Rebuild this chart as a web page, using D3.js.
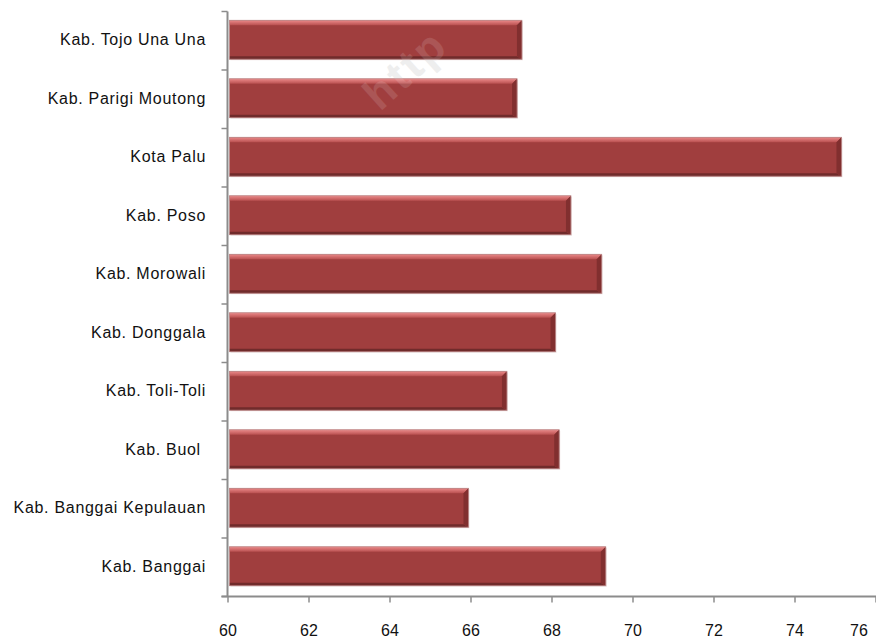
<!DOCTYPE html>
<html>
<head>
<meta charset="utf-8">
<script src="https://cdn.jsdelivr.net/npm/d3@7/dist/d3.min.js"></script>
<style>
  html, body { margin: 0; padding: 0; background: #ffffff; }
  svg { display: block; font-family: "Liberation Sans", Arial, sans-serif; }
  .cat text { white-space: pre; }
</style>
</head>
<body>
<svg id="chart" width="876" height="643"></svg>
<script>
// Regencies / city, top to bottom
const categories = [
  "Kab. Tojo Una Una",
  "Kab. Parigi Moutong",
  "Kota Palu",
  "Kab. Poso",
  "Kab. Morowali",
  "Kab. Donggala",
  "Kab. Toli-Toli",
  "Kab. Buol ",
  "Kab. Banggai Kepulauan",
  "Kab. Banggai"
];
const values = [67.27, 67.15, 75.16, 68.48, 69.24, 68.10, 66.90, 68.19, 65.95, 69.34];
const xDomain = [60, 76];
const xTicks = [60, 62, 64, 66, 68, 70, 72, 74, 76];

const svg = d3.select("#chart");
const W = 876, H = 643;
const plotLeft = 227.5, plotRight = 875.5, plotTop = 11.5, plotBottom = 596.5;

const x = d3.scaleLinear().domain(xDomain).range([plotLeft, plotRight]);
const y = d3.scaleBand().domain(categories).range([plotTop, plotBottom])
  .paddingInner(0.335).paddingOuter(0.1675);

const defs = svg.append("defs");
const tg = defs.append("linearGradient").attr("id", "topGrad")
  .attr("x1", 0).attr("y1", 0).attr("x2", 0).attr("y2", 1);
tg.append("stop").attr("offset", "0%").attr("stop-color", "#ec8a8a");
tg.append("stop").attr("offset", "100%").attr("stop-color", "#b84f4f");

const wmTransform = "translate(380,112) rotate(-42)";

// faint watermark behind the plot
svg.append("g").attr("transform", wmTransform)
  .append("text")
  .attr("font-size", 44).attr("font-weight", "bold")
  .attr("letter-spacing", 3)
  .attr("fill", "#ececec")
  .text("http");

// bars with bevelled edges
const bars = svg.append("g").selectAll("g.bar")
  .data(categories.map((c, i) => ({ c, v: values[i] })))
  .join("g").attr("class", "bar");

const b = 5;   // bevel width
bars.each(function(d) {
  const g = d3.select(this);
  const x0 = x(xDomain[0]) + 2, x1 = x(d.v);
  const y0 = y(d.c) - 1, y1 = y0 + y.bandwidth();
  // soft shadow
  g.append("rect").attr("x", x0 + 1).attr("y", y0 + 1).attr("width", x1 - x0)
    .attr("height", y1 - y0).attr("fill", "#dcc6c6").attr("opacity", 0.6);
  // body
  g.append("rect").attr("x", x0).attr("y", y0).attr("width", x1 - x0)
    .attr("height", y1 - y0).attr("fill", "#a03e3e");
  // top bevel (light)
  g.append("polygon")
    .attr("points", [[x0, y0], [x1, y0], [x1 - b, y0 + b], [x0, y0 + b]].join(" "))
    .attr("fill", "url(#topGrad)");
  // bottom bevel (dark)
  g.append("polygon")
    .attr("points", [[x0, y1], [x1, y1], [x1 - b, y1 - 3], [x0, y1 - 3]].join(" "))
    .attr("fill", "#702b2b");
  // right bevel
  g.append("polygon")
    .attr("points", [[x1, y0], [x1, y1], [x1 - b, y1 - 3], [x1 - b, y0 + b]].join(" "))
    .attr("fill", "#812f2f");
  // thin outline
  g.append("rect").attr("x", x0).attr("y", y0).attr("width", x1 - x0)
    .attr("height", y1 - y0).attr("fill", "none")
    .attr("stroke", "#bb8a8a").attr("stroke-width", 0.8);
});

// watermark overlay: faint on bars as well
svg.append("g").attr("transform", wmTransform)
  .append("text")
  .attr("font-size", 44).attr("font-weight", "bold")
  .attr("letter-spacing", 3)
  .attr("fill", "#ffffff").attr("opacity", 0.12)
  .text("http");

// vertical (category) axis with ticks between bands
const axisColor = "#8c8c8c";
const yAxisG = svg.append("g").attr("class", "cat");
yAxisG.append("line").attr("x1", plotLeft).attr("x2", plotLeft)
  .attr("y1", plotTop).attr("y2", plotBottom)
  .attr("stroke", axisColor).attr("stroke-width", 2);
const bounds = categories.map(c => y(c) - y.step() * y.paddingInner() / 2);
bounds.push(plotBottom);
yAxisG.selectAll("line.tk").data(bounds).join("line").attr("class", "tk")
  .attr("x1", plotLeft - 6).attr("x2", plotLeft)
  .attr("y1", d => d).attr("y2", d => d)
  .attr("stroke", axisColor).attr("stroke-width", 1.5);
yAxisG.selectAll("text").data(categories).join("text")
  .attr("x", 206)
  .attr("y", d => y(d) + y.bandwidth() / 2 - 1)
  .attr("dy", "0.35em")
  .attr("text-anchor", "end")
  .attr("font-size", 16)
  .attr("letter-spacing", 0.7)
  .attr("fill", "#111")
  .text(d => d);

// horizontal value axis
const xAxis = d3.axisBottom(x).tickValues(xTicks).tickSize(6).tickPadding(22)
  .tickFormat(d3.format("d"));
const xg = svg.append("g").attr("transform", `translate(0,${plotBottom})`).call(xAxis);
xg.select(".domain").attr("stroke", axisColor).attr("stroke-width", 2)
  .attr("d", `M${plotLeft - 6},0H${W}`);
xg.selectAll(".tick line").attr("stroke", axisColor).attr("stroke-width", 1.5);
xg.selectAll(".tick text")
  .attr("font-size", 16).attr("fill", "#111")
  .attr("font-family", "'Liberation Sans', Arial, sans-serif")
  .attr("dx", d => d === xTicks[xTicks.length - 1] ? -17 : 0);
</script>
</body>
</html>
